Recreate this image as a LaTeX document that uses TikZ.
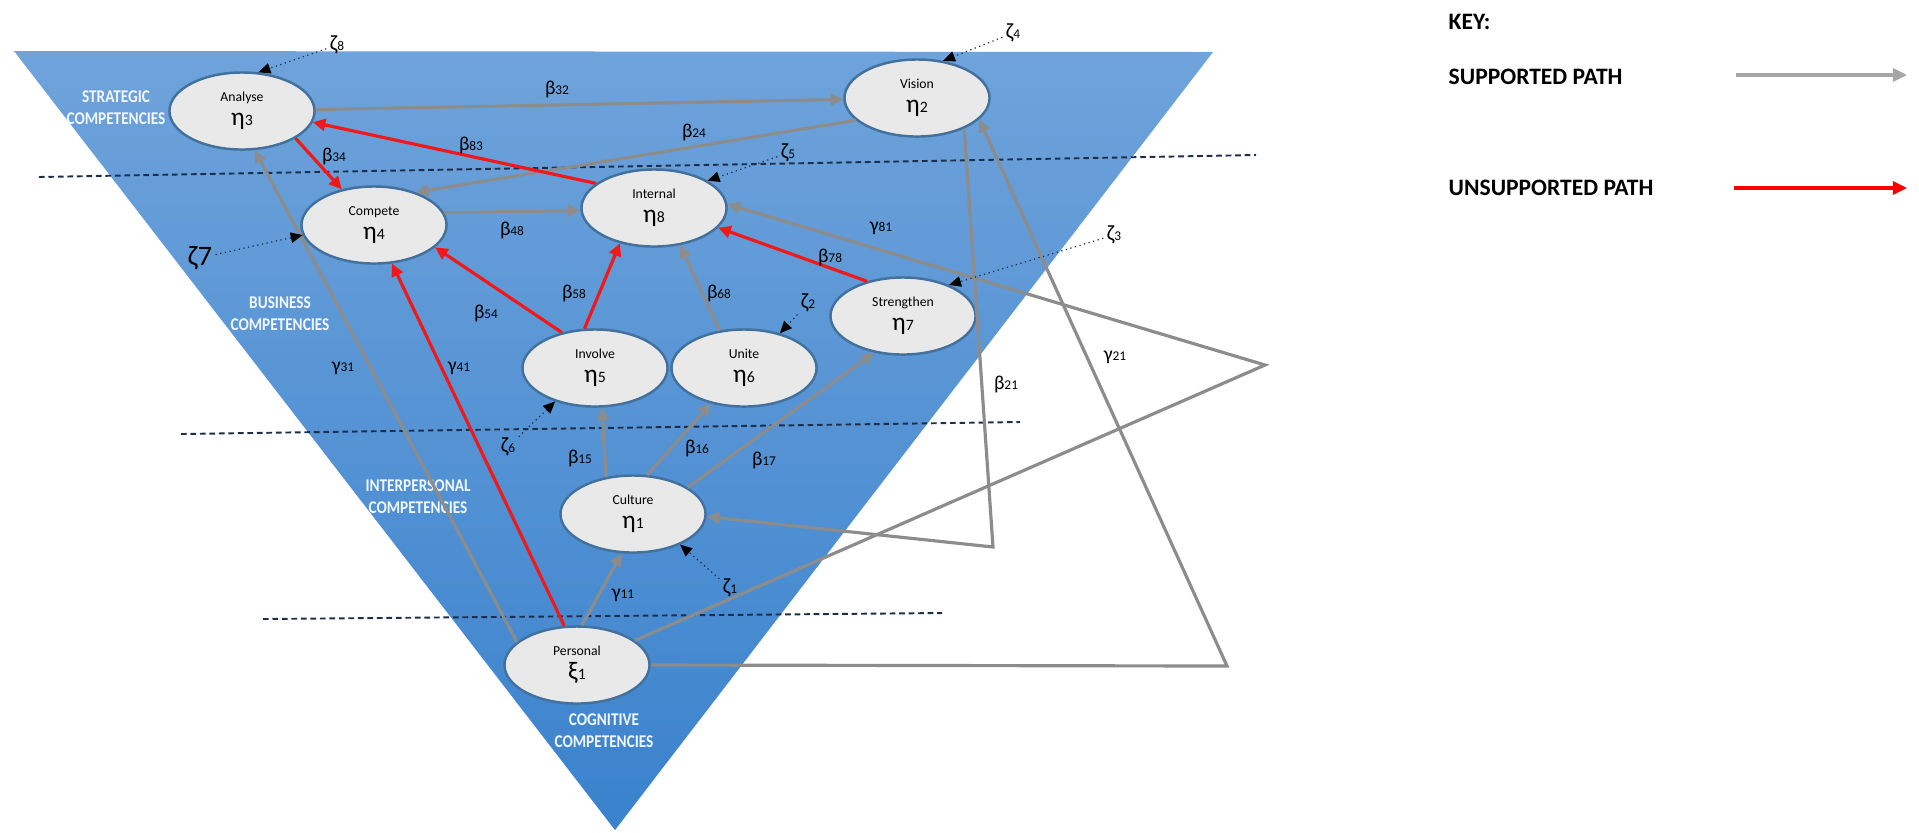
\documentclass[tikz,border=0pt]{standalone}
\usepackage{fontspec}
\setmainfont{Carlito}
\newfontfamily\levelfont[FakeStretch=0.85]{Carlito}
\usetikzlibrary{shapes.geometric,arrows.meta}
\definecolor{ellfill}{HTML}{E9E9E9}
\definecolor{ellline}{HTML}{41719C}
\definecolor{pathgrey}{HTML}{8C8C8C}
\definecolor{pathred}{HTML}{F01818}
\definecolor{keygrey}{HTML}{A6A6A6}
\definecolor{keyred}{HTML}{FF0000}
\definecolor{bandline}{HTML}{1C2E4A}
\definecolor{pyrtop}{HTML}{6FA3DB}
\definecolor{pyrbottom}{HTML}{3A82CD}
\definecolor{levelwhite}{HTML}{F2F7FD}
\newcommand{\lv}[3]{#1\\{\fontsize{7.2}{6.8}\selectfont #2}{\fontsize{4.5}{4}\selectfont #3}}
\newcommand{\pl}[2]{#1{\fontsize{3.8}{3.8}\selectfont #2}}
\tikzset{
  latent/.style={ellipse, draw=ellline, fill=ellfill, line width=0.7pt,
    minimum width=1.45cm, minimum height=0.77cm, inner sep=0pt, align=center,
    font=\fontsize{3.9}{6.8}\selectfont},
  supported/.style={draw=pathgrey, line width=0.9pt, -{Triangle[length=3.6pt,width=3.4pt]}},
  unsupported/.style={draw=pathred, line width=0.9pt, -{Triangle[length=3.6pt,width=3.4pt]}},
  disturb/.style={draw=bandline, line width=0.35pt, densely dotted,
    -{Triangle[length=3.4pt,width=3pt,color=black]}},
  band/.style={draw=bandline, line width=0.55pt, dash pattern=on 1.6pt off 1.1pt},
  coef/.style={font=\fontsize{5.6}{5.6}\selectfont, inner sep=0.5pt},
  zeta/.style={font=\fontsize{6.2}{6.2}\selectfont, inner sep=0.8pt},
  level/.style={font=\levelfont\fontsize{5.1}{6.2}\selectfont\bfseries, text=levelwhite, align=center},
  keytext/.style={font=\fontsize{6.7}{6.7}\selectfont\bfseries, anchor=west, inner sep=0pt},
  keyarrow/.style={line width=0.9pt, -{Triangle[length=4pt,width=3.7pt]}}
}
\begin{document}
\begin{tikzpicture}[x=0.01cm, y=-0.01cm]
\useasboundingbox (0,0) rectangle (1919,832);
\shade[top color=pyrtop, bottom color=pyrbottom] (14,51) -- (1213,52) -- (615,830) -- cycle;
\draw[band] (39,177) -- (1256,155);
\draw[band] (181,434) -- (1020,422);
\draw[band] (263,619) -- (942,613);

\node[level] (strategic) at (116,108) {STRATEGIC\\COMPETENCIES};
\node[level] (business) at (280,314) {BUSINESS\\COMPETENCIES};
\node[level] (interpersonal) at (418,497) {INTERPERSONAL\\COMPETENCIES};
\node[level] (cognitive) at (604,731) {COGNITIVE\\COMPETENCIES};

\node[latent] (analyse) at (242,111) {\lv{Analyse}{η}{3}};
\node[latent] (vision) at (917,98) {\lv{Vision}{η}{2}};
\node[latent] (compete) at (374,225) {\lv{Compete}{η}{4}};
\node[latent] (internal) at (654,208) {\lv{Internal}{η}{8}};
\node[latent] (strengthen) at (903,316) {\lv{Strengthen}{η}{7}};
\node[latent] (involve) at (595,368) {\lv{Involve}{η}{5}};
\node[latent] (unite) at (744,368) {\lv{Unite}{η}{6}};
\node[latent] (culture) at (633,514) {\lv{Culture}{η}{1}};
\node[latent] (personal) at (577,665) {\lv{Personal}{ξ}{1}};

\coordinate (bendb21) at (993,547);
\coordinate (bendg21) at (1227,666);
\coordinate (bendg81) at (1265,365);

\draw[supported] (analyse) -- (vision);
\draw[supported] (vision.200) -- (compete.38);
\draw[supported] (compete.10) -- (internal.182);
\draw[supported] (personal.159) -- (analyse.-72);
\draw[supported] (culture.126) -- (involve.-80);
\draw[supported] (culture.70) -- (unite.227);
\draw[supported] (culture.26) -- (strengthen.232);
\draw[supported] (unite.123) -- (internal.-55);
\draw[supported] (personal.83) -- (culture.-106);
\draw[supported] (vision.-33) -- (bendb21) -- (culture.-2);
\draw[supported] (personal.east) -- (bendg21) -- (vision.-19);
\draw[supported] (personal.23) -- (bendg81) -- (internal.3);

\draw[unsupported] (internal.157) -- (analyse.-9);
\draw[unsupported] (analyse.-27) -- (compete.132);
\draw[unsupported] (involve.133) -- (compete.-20);
\draw[unsupported] (involve.105) -- (internal.-134);
\draw[unsupported] (strengthen.136) -- (internal.-17);
\draw[unsupported] (personal.108) -- (compete.-65);

\node[coef] (b32) at (557,89) {\pl{β}{32}};
\node[coef] (b83) at (471,145) {\pl{β}{83}};
\node[coef] (b34) at (334,156) {\pl{β}{34}};
\node[coef] (b24) at (694,132) {\pl{β}{24}};
\node[coef] (b48) at (512,230) {\pl{β}{48}};
\node[coef] (b54) at (486,313) {\pl{β}{54}};
\node[coef] (b58) at (574,293) {\pl{β}{58}};
\node[coef] (b68) at (719,293) {\pl{β}{68}};
\node[coef] (b78) at (830,257) {\pl{β}{78}};
\node[coef] (g81) at (881,228) {\pl{γ}{81}};
\node[coef] (g31) at (343,368) {\pl{γ}{31}};
\node[coef] (g41) at (459,368) {\pl{γ}{41}};
\node[coef] (b15) at (580,458) {\pl{β}{15}};
\node[coef] (b16) at (697,448) {\pl{β}{16}};
\node[coef] (b17) at (764,460) {\pl{β}{17}};
\node[coef] (b21) at (1006,384) {\pl{β}{21}};
\node[coef] (g21) at (1115,357) {\pl{γ}{21}};
\node[coef] (g11) at (623,595) {\pl{γ}{11}};

\node[zeta] (z8) at (337,45) {\pl{ζ}{8}};
\node[zeta] (z4) at (1013,33) {\pl{ζ}{4}};
\node[zeta] (z5) at (788,153) {\pl{ζ}{5}};
\node[zeta, font=\fontsize{8}{8}\selectfont] (z7) at (200,258) {ζ7};
\node[zeta] (z3) at (1114,235) {\pl{ζ}{3}};
\node[zeta] (z2) at (808,303) {\pl{ζ}{2}};
\node[zeta] (z6) at (508,447) {\pl{ζ}{6}};
\node[zeta] (z1) at (730,588) {\pl{ζ}{1}};

\draw[disturb] (z8) -- (analyse.67);
\draw[disturb] (z4) -- (vision.55);
\draw[disturb] (z5) -- (internal.27);
\draw[disturb] (z7) -- (compete.188);
\draw[disturb] (z3) -- (strengthen.34);
\draw[disturb] (z2) -- (unite.44);
\draw[disturb] (z6) -- (involve.220);
\draw[disturb] (z1) -- (culture.-33);

\node[keytext] (key) at (1448,22) {KEY:};
\node[keytext] (keysup) at (1448,77) {SUPPORTED PATH};
\node[keytext] (keyuns) at (1448,188) {UNSUPPORTED PATH};
\coordinate (keysup0) at (1736,75);
\coordinate (keysup1) at (1907,75);
\coordinate (keyuns0) at (1734,188);
\coordinate (keyuns1) at (1907,188);
\draw[keyarrow, draw=keygrey] (keysup0) -- (keysup1);
\draw[keyarrow, draw=keyred] (keyuns0) -- (keyuns1);
\end{tikzpicture}
\end{document}
